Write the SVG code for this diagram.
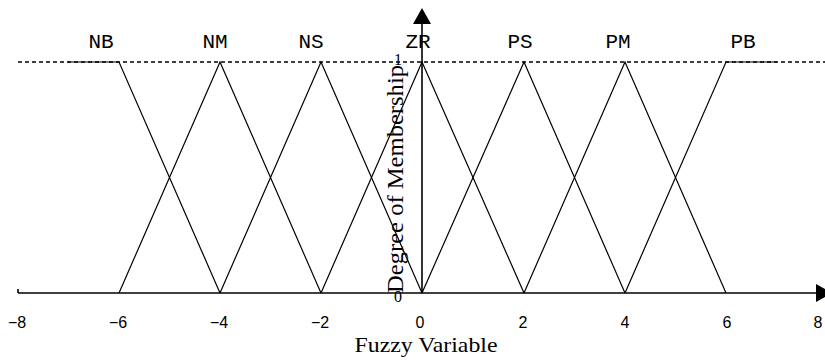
<svg xmlns="http://www.w3.org/2000/svg" width="825" height="360" viewBox="0 0 825 360">
<style>
.mf{fill:none;stroke:#000;stroke-width:1.2}
.lbl{font-family:"Liberation Mono",monospace;font-size:21px;text-anchor:middle;fill:#000}
.tick{font-family:"Liberation Sans",Arial,sans-serif;font-size:16px;text-anchor:middle;fill:#000}
.ser{font-family:"Liberation Serif","Times New Roman",serif;fill:#000}
.axis{stroke:#000;stroke-width:1.6;fill:none}
</style>
<rect width="825" height="360" fill="#fff"/>
<g id="connectors">
<line x1="18" y1="62" x2="825" y2="62" stroke="#000" stroke-width="1.3" stroke-dasharray="4 3"/>
<line class="axis" x1="18" y1="293" x2="818" y2="293"/>
<line class="axis" x1="18" y1="289" x2="18" y2="293"/>
<polygon points="816,284 832,293 816,302" fill="#000"/>
<line class="axis" x1="422" y1="293" x2="422" y2="22"/>
<polygon points="413,24 422,8 431,24" fill="#000"/>
</g>
<g id="NB"><polyline class="mf" points="68,62 119,62 220,293"/><text class="lbl" x="101" y="48">NB</text></g>
<g id="NM"><polyline class="mf" points="119,293 220,62 321,293"/><text class="lbl" x="215" y="48">NM</text></g>
<g id="NS"><polyline class="mf" points="220,293 321,62 422,293"/><text class="lbl" x="311" y="48">NS</text></g>
<g id="ZR"><polyline class="mf" points="321,293 422,62 524,293"/><text class="lbl" x="418" y="48">ZR</text></g>
<g id="PS"><polyline class="mf" points="422,293 524,62 625,293"/><text class="lbl" x="520" y="48">PS</text></g>
<g id="PM"><polyline class="mf" points="524,293 625,62 726,293"/><text class="lbl" x="618" y="48">PM</text></g>
<g id="PB"><polyline class="mf" points="625,293 726,62 777,62"/><text class="lbl" x="743" y="48">PB</text></g>
<g id="ticks">
<text class="tick" x="17" y="328">−8</text>
<text class="tick" x="118" y="328">−6</text>
<text class="tick" x="219" y="328">−4</text>
<text class="tick" x="320" y="328">−2</text>
<text class="tick" x="420" y="328">0</text>
<text class="tick" x="523" y="328">2</text>
<text class="tick" x="625" y="328">4</text>
<text class="tick" x="727" y="328">6</text>
<text class="tick" x="818" y="328">8</text>
</g>
<g id="labels">
<text class="ser" x="398" y="65" font-size="16" text-anchor="middle">1</text>
<text class="ser" x="398" y="302" font-size="16" text-anchor="middle">0</text>
<text class="ser" x="426" y="352" font-size="22" text-anchor="middle" textLength="143" lengthAdjust="spacingAndGlyphs">Fuzzy Variable</text>
<text class="ser" transform="translate(403,179) rotate(-90)" font-size="23" text-anchor="middle" textLength="228" lengthAdjust="spacingAndGlyphs">Degree of Membership</text>
</g>
</svg>
